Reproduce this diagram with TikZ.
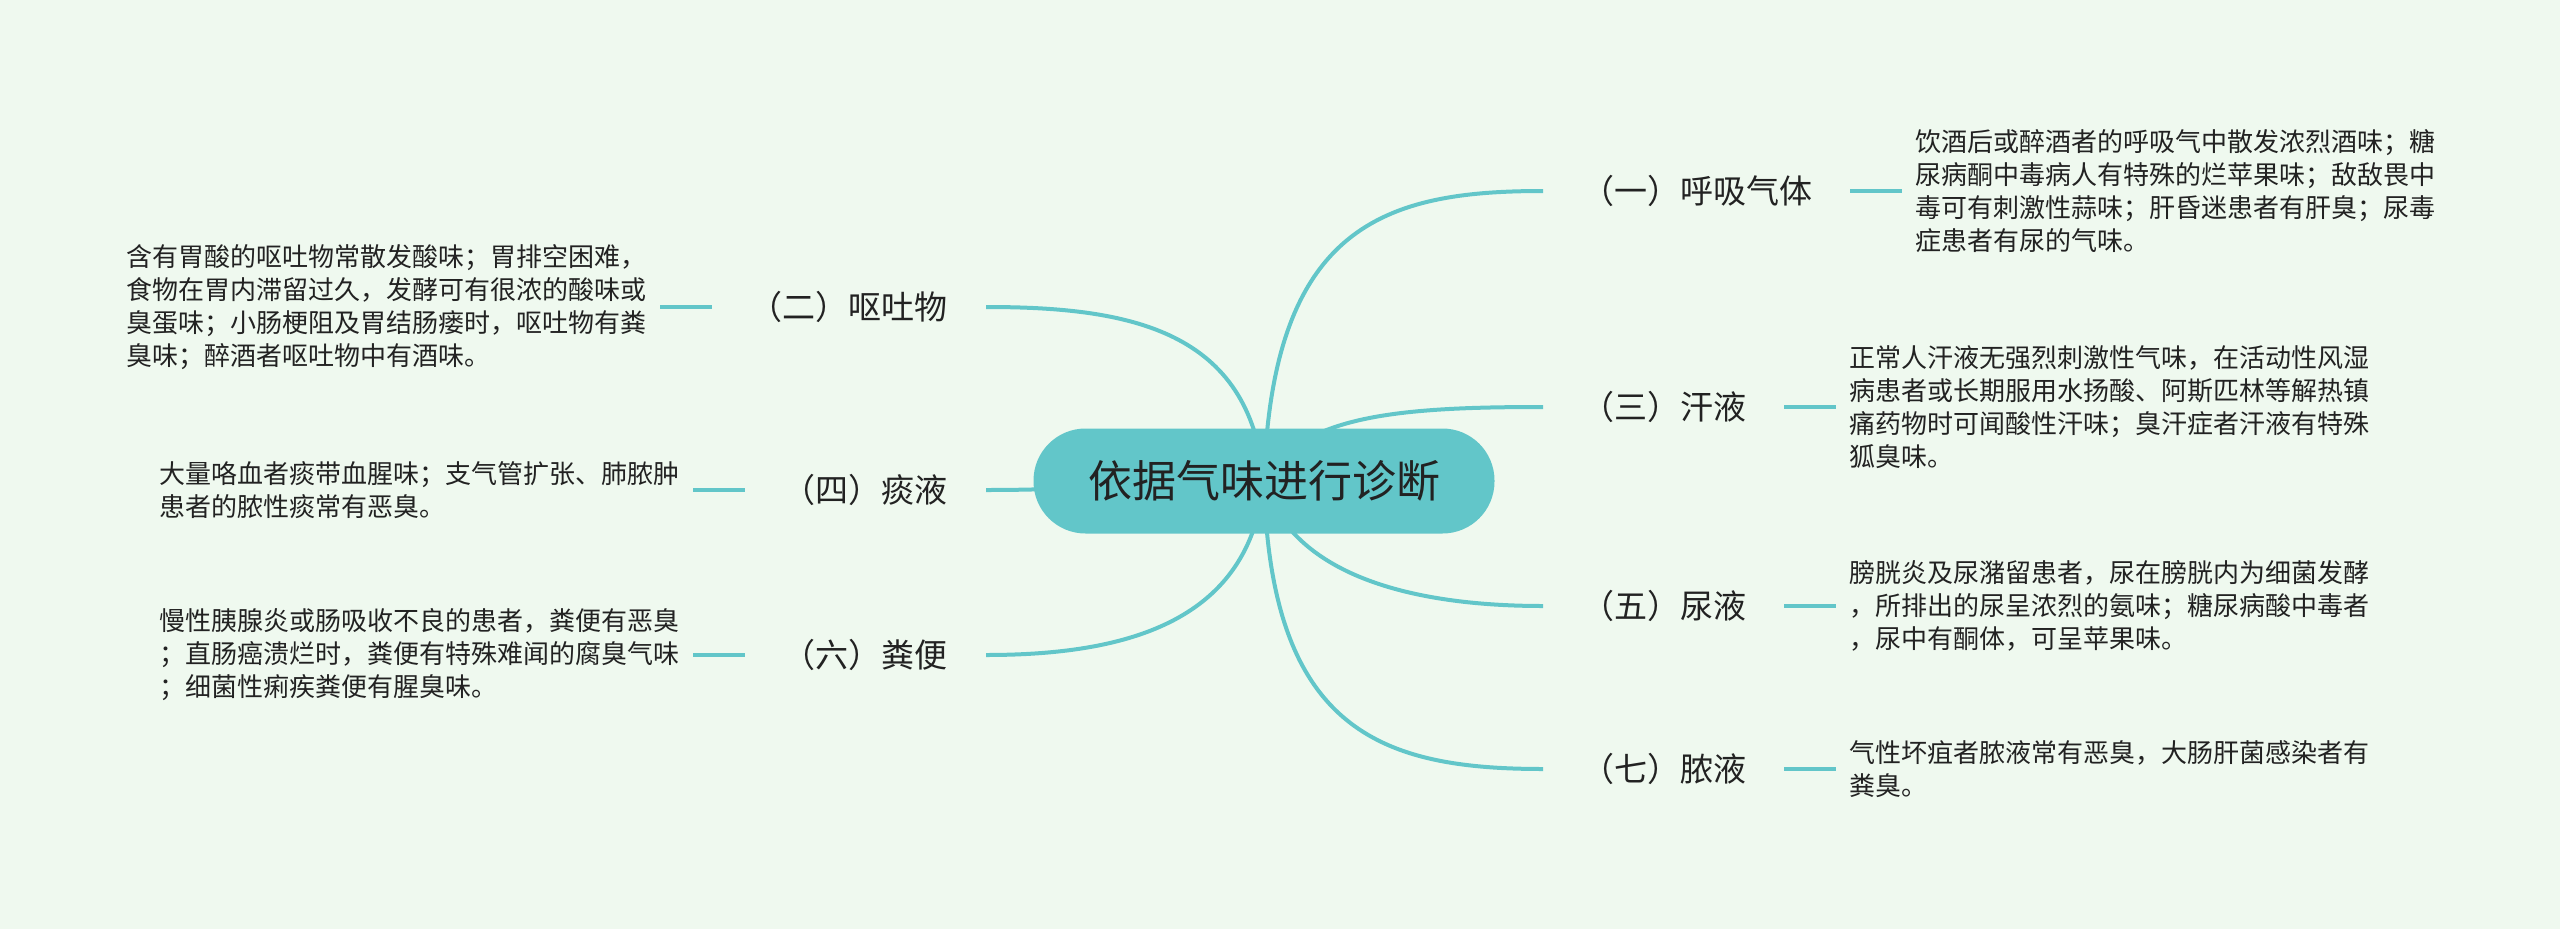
\documentclass[tikz,border=0pt]{standalone}
\usepackage{fontspec}
\setmainfont{Noto Sans CJK SC}
\usepackage{xcolor}
\usepackage{tikz}
\usetikzlibrary{positioning}

\definecolor{mapbg}{HTML}{EFF9EF}
\definecolor{mapteal}{HTML}{62C6C9}
\definecolor{mapink}{HTML}{222222}

\begin{document}
\begin{tikzpicture}[x=1pt, y=-1pt, node distance=52pt,
	topic/.style={fill=mapteal, rounded corners=52pt, minimum width=461pt, minimum height=105pt, text=mapink, font=\fontsize{44}{52}\selectfont},
	branch/.style={inner xsep=38pt, inner ysep=4pt, text=mapink, font=\fontsize{33}{40}\selectfont},
	leaf/.style={inner xsep=13pt, inner ysep=4pt, align=left, text=mapink, font=\fontsize{26}{33}\selectfont},
	curve/.style={draw=mapteal, line width=4pt},
	tick/.style={draw=mapteal, line width=4.5pt}]
			\fill[mapbg] (0,0) rectangle (2560,929);
			\useasboundingbox (0,0) rectangle (2560,929);

			\node[branch, anchor=west] (b1) at (1543,191) {（一）呼吸气体};
			\node[branch, anchor=west] (b3) at (1543,407) {（三）汗液};
			\node[branch, anchor=west] (b5) at (1543,606) {（五）尿液};
			\node[branch, anchor=west] (b7) at (1543,769) {（七）脓液};
			\node[branch, anchor=east] (b2) at (986,307) {（二）呕吐物};
			\node[branch, anchor=east] (b4) at (986,490) {（四）痰液};
			\node[branch, anchor=east] (b6) at (986,655) {（六）粪便};

			\node[leaf] (d1) [right=of b1] {饮酒后或醉酒者的呼吸气中散发浓烈酒味；糖\\尿病酮中毒病人有特殊的烂苹果味；敌敌畏中\\毒可有刺激性蒜味；肝昏迷患者有肝臭；尿毒\\症患者有尿的气味。};
			\node[leaf] (d3) [right=of b3] {正常人汗液无强烈刺激性气味，在活动性风湿\\病患者或长期服用水扬酸、阿斯匹林等解热镇\\痛药物时可闻酸性汗味；臭汗症者汗液有特殊\\狐臭味。};
			\node[leaf] (d5) [right=of b5] {膀胱炎及尿潴留患者，尿在膀胱内为细菌发酵\\，所排出的尿呈浓烈的氨味；糖尿病酸中毒者\\，尿中有酮体，可呈苹果味。};
			\node[leaf] (d7) [right=of b7] {气性坏疽者脓液常有恶臭，大肠肝菌感染者有\\粪臭。};
			\node[leaf] (d2) [left=of b2] {含有胃酸的呕吐物常散发酸味；胃排空困难，\\食物在胃内滞留过久，发酵可有很浓的酸味或\\臭蛋味；小肠梗阻及胃结肠瘘时，呕吐物有粪\\臭味；醉酒者呕吐物中有酒味。};
			\node[leaf] (d4) [left=of b4] {大量咯血者痰带血腥味；支气管扩张、肺脓肿\\患者的脓性痰常有恶臭。};
			\node[leaf] (d6) [left=of b6] {慢性胰腺炎或肠吸收不良的患者，粪便有恶臭\\；直肠癌溃烂时，粪便有特殊难闻的腐臭气味\\；细菌性痢疾粪便有腥臭味。};

			\draw[tick] (b1) -- (d1);
			\draw[tick] (b3) -- (d3);
			\draw[tick] (b5) -- (d5);
			\draw[tick] (b7) -- (d7);
			\draw[tick] (b2) -- (d2);
			\draw[tick] (b4) -- (d4);
			\draw[tick] (b6) -- (d6);

			\coordinate (hub) at (1264,481);
			\draw[curve] (hub) .. controls (1272,225) and (1385,191) .. (b1.west);
			\draw[curve] (hub) .. controls (1300,415) and (1400,407) .. (b3.west);
			\draw[curve] (hub) .. controls (1290,570) and (1400,606) .. (b5.west);
			\draw[curve] (hub) .. controls (1270,730) and (1380,769) .. (b7.west);
			\draw[curve] (hub) .. controls (1250,330) and (1130,307) .. (b2.east);
			\draw[curve] (hub) .. controls (1150,481) and (1100,490) .. (b4.east);
			\draw[curve] (hub) .. controls (1250,620) and (1130,655) .. (b6.east);

			\node[topic] (root) at (hub) {依据气味进行诊断};
		\end{tikzpicture}
\end{document}
